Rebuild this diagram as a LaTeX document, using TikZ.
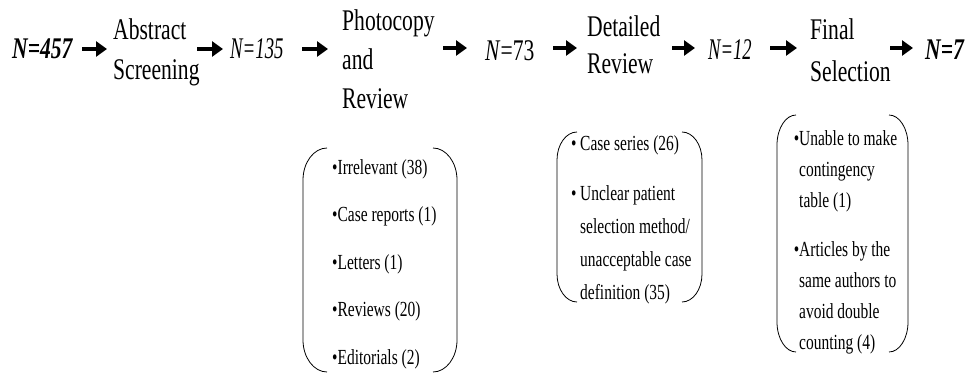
\documentclass[tikz,border=0pt]{standalone}
\usepackage{fontspec}
\usepackage{graphicx}
\setmainfont{Liberation Serif}[FakeStretch=0.72]
\usetikzlibrary{arrows.meta}
\newcommand{\bracketpair}[6]{%
  \draw[brk] ({#1+#5},#3) .. controls ({#1+0.45*#5},#3) and (#1,{#3+0.45*#6}) .. (#1,{#3+#6})
     -- (#1,{#4-#6}) .. controls (#1,{#4-0.45*#6}) and ({#1+0.45*#5},#4) .. ({#1+#5},#4);
  \draw[brk] ({#2-#5},#3) .. controls ({#2-0.45*#5},#3) and (#2,{#3+0.45*#6}) .. (#2,{#3+#6})
     -- (#2,{#4-#6}) .. controls (#2,{#4-0.45*#6}) and ({#2-0.45*#5},#4) .. ({#2-#5},#4);
}
\begin{document}
\begin{tikzpicture}[x=1pt,y=-1pt,
  big/.style={font=\fontsize{30}{40}\selectfont, inner sep=0pt, anchor=base west, align=left},
  small/.style={font=\fontsize{21.5}{31}\selectfont, inner sep=0pt, anchor=base west, align=left},
  arr/.style={line width=3.8pt, -{Triangle[length=11pt,width=15pt]}},
  brk/.style={line width=0.8pt}]
\useasboundingbox (0,0) rectangle (974,377);

% main flow (multi-line nodes are placed by their last baseline)
\node[big] (n457) at (12,59) {\textbf{\textit{N=457}}};
\node[big] (abs) at (113,80) {Abstract\\Screening};
\node[big] (n135) at (230,59) {\scalebox{0.87}[1]{\textit{N=135}}};
\node[big, font=\fontsize{30}{39}\selectfont] (photo) at (342,109) {Photocopy\\and\\Review};
\node[big] (n73) at (485,61) {\textit{N}=73};
\node[big, font=\fontsize{30}{37}\selectfont] (det) at (587,74) {Detailed\\Review};
\node[big] (n12) at (708,60) {\scalebox{0.86}[1]{\textit{N=12}}};
\node[big, font=\fontsize{30}{42}\selectfont] (fin) at (810,82) {Final\\Selection};
\node[big] (n7) at (925,60) {\textbf{\textit{N=7}}};

% arrows
\coordinate (a1s) at (82,49);  \coordinate (a1e) at (107,49);
\coordinate (a2s) at (197,49); \coordinate (a2e) at (223,49);
\coordinate (a3s) at (302,49); \coordinate (a3e) at (328,49);
\coordinate (a4s) at (443,48); \coordinate (a4e) at (467,48);
\coordinate (a5s) at (553,48); \coordinate (a5e) at (577,48);
\coordinate (a6s) at (672,48); \coordinate (a6e) at (695,48);
\coordinate (a7s) at (770,48); \coordinate (a7e) at (797,48);
\coordinate (a8s) at (890,48); \coordinate (a8e) at (913,48);
\foreach \i in {1,...,8} { \draw[arr] (a\i s) -- (a\i e); }

% exclusion boxes
\bracketpair{303}{457}{148}{372}{24}{32}
\bracketpair{557}{702}{132}{302}{20}{28}
\bracketpair{777}{908}{115}{352}{19}{30}

\node[small, font=\fontsize{21.5}{47.5}\selectfont] (ex1) at (332,364)
  {•Irrelevant (38)\\•Case reports (1)\\•Letters (1)\\•Reviews (20)\\•Editorials (2)};
\node[small, font=\fontsize{21.5}{33}\selectfont] (ex2) at (580,299)
  {\llap{•\,}Case series (26)\\[17pt]\llap{•\,}Unclear patient\\selection method/\\unacceptable case\\definition (35)};
\node[small, font=\fontsize{21.5}{31}\selectfont] (ex3) at (799,349)
  {\llap{•}Unable to make\\contingency\\table (1)\\[18pt]\llap{•}Articles by the\\same authors to\\avoid double\\counting (4)};
\end{tikzpicture}
\end{document}
